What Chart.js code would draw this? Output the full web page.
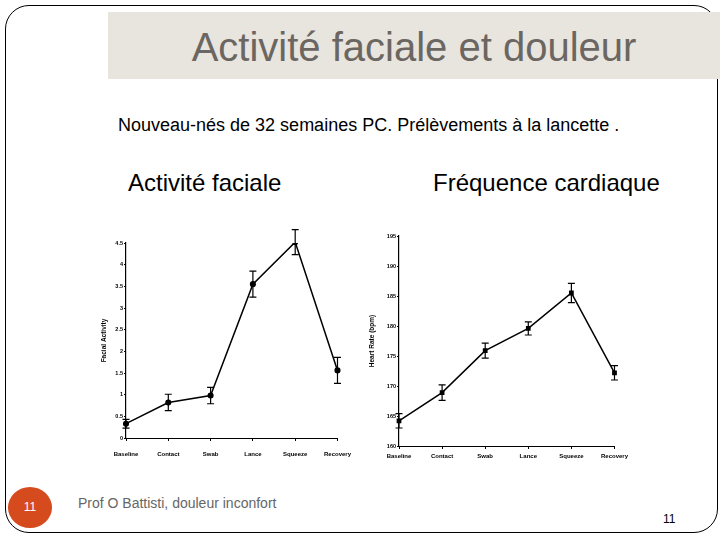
<!DOCTYPE html>
<html>
<head>
<meta charset="utf-8">
<script src="https://cdn.jsdelivr.net/npm/chart.js@4.4.1/dist/chart.umd.min.js"></script>
<style>
body { margin:0; width:720px; height:540px; background:#fff; font-family:"Liberation Sans", Arial, sans-serif; overflow:hidden; }
#slide { position:absolute; left:5px; top:5px; width:713px; height:528px; border:1px solid #000; border-radius:24px; box-sizing:border-box; }
#titlebox { position:absolute; left:108px; top:12px; width:612px; height:67px; background:#e8e4de; }
#title { position:absolute; left:108px; top:14px; width:612px; height:67px; line-height:67px; text-align:center; font-size:40px; color:#6b6661; }
.txt { position:absolute; white-space:nowrap; color:#000; }
#sub { left:118px; top:115px; font-size:18px; }
#h1 { left:128px; top:169px; font-size:24px; }
#h2 { left:433px; top:169px; font-size:24px; }
#num { position:absolute; left:8px; top:487px; width:44px; height:41px; border-radius:50%; background:#d54b1d; color:#fff; font-size:12px; text-align:center; line-height:41px; }
#foot { left:78px; top:495px; font-size:14px; color:#666; }
#pg { left:663px; top:512px; font-size:12px; }
#c1 { position:absolute; left:90px; top:225px; }
#c2 { position:absolute; left:360px; top:225px; }
</style>
</head>
<body>
<div id="slide"></div>
<div id="titlebox"></div>
<div id="title">Activité faciale et douleur</div>
<div class="txt" id="sub">Nouveau-nés de 32 semaines PC. Prélèvements à la lancette .</div>
<div class="txt" id="h1">Activité faciale</div>
<div class="txt" id="h2">Fréquence cardiaque</div>
<div id="num">11</div>
<div class="txt" id="foot">Prof O Battisti, douleur inconfort</div>
<div class="txt" id="pg">11</div>
<canvas id="c1" width="271" height="245" style="width:271px;height:245px"></canvas>
<canvas id="c2" width="272" height="245" style="width:272px;height:245px"></canvas>
<script>
var steps = ["Baseline", "Contact", "Swab", "Lance", "Squeeze", "Recovery"];
var facial = [0.33, 0.82, 0.98, 3.55, 4.52, 1.56];
var facialErr = [0.1, 0.19, 0.19, 0.3, 0.29, 0.3];
var heart = [164.2, 168.9, 175.9, 179.6, 185.5, 172.2];
var heartErr = [1.2, 1.3, 1.25, 1.1, 1.6, 1.2];

// barres d'erreur dessinées avec l'échelle y du graphique
var errorBars = {
  id: "errorBars",
  afterDatasetsDraw: function(chart) {
    var ctx = chart.ctx;
    var ys = chart.scales.y;
    var meta = chart.getDatasetMeta(0);
    var ds = chart.data.datasets[0];
    ctx.save();
    ctx.strokeStyle = "#000";
    ctx.lineWidth = 1.2;
    for (var i = 0; i < ds.data.length; i++) {
      var x = meta.data[i].x;
      var y1 = ys.getPixelForValue(ds.data[i] + ds.err[i]);
      var y2 = ys.getPixelForValue(ds.data[i] - ds.err[i]);
      ctx.beginPath();
      ctx.moveTo(x, y1); ctx.lineTo(x, y2);
      ctx.moveTo(x - 3.5, y1); ctx.lineTo(x + 3.5, y1);
      ctx.moveTo(x - 3.5, y2); ctx.lineTo(x + 3.5, y2);
      ctx.stroke();
    }
    ctx.restore();
  }
};

function makeChart(id, values, err, yTitle, ymin, ymax, ystep, opt) {
  return new Chart(id, {
    type: "line",
    data: {
      labels: steps,
      datasets: [{
        data: values,
        err: err,
        borderColor: "#000",
        backgroundColor: "#000",
        borderWidth: 1.5,
        pointRadius: 2.3,
        pointStyle: opt.pointStyle,
        tension: 0
      }]
    },
    options: {
      responsive: false,
      animation: false,
      layout: { padding: { top: opt.top, right: 2, left: 0, bottom: 0 } },
      plugins: { legend: { display: false }, tooltip: { enabled: false } },
      scales: {
        x: {
          offset: false,
          grid: { drawOnChartArea: false, tickLength: 3, color: "#000" },
          border: { color: "#000", width: 1 },
          ticks: { color: "#000", padding: opt.xpad, maxRotation: 0, autoSkip: false, font: { family: "Liberation Sans Narrow, Liberation Sans", size: 6, weight: "bold" } },
          afterFit: function(s) { s.height = opt.xh; }
        },
        y: {
          min: ymin, max: ymax,
          grid: { drawOnChartArea: false, tickLength: 2, color: "#000" },
          border: { color: "#000", width: 1.2 },
          ticks: {
            stepSize: ystep, color: "#000", padding: 1,
            font: { family: "Liberation Sans Narrow, Liberation Sans", size: 5.5, weight: "bold" },
            callback: function(v) { return String(v); }
          },
          title: { display: true, text: yTitle, color: "#000", padding: { top: opt.tpad, bottom: 0 }, font: { family: "Liberation Sans", size: 6.5, weight: "bold" } },
          afterFit: function(s) { s.width = opt.yw; }
        }
      }
    },
    plugins: [errorBars]
  });
}

makeChart("c1", facial, facialErr, "Facial Activity", 0, 4.5, 0.5,
  { top: 18, xh: 32, yw: 36, xpad: 10, tpad: 10, pointStyle: "circle" });
makeChart("c2", heart, heartErr, "Heart Rate (bpm)", 160, 195, 5,
  { top: 11, xh: 24, yw: 39, xpad: 4, tpad: 8, pointStyle: "rect" });
</script>
</body>
</html>
